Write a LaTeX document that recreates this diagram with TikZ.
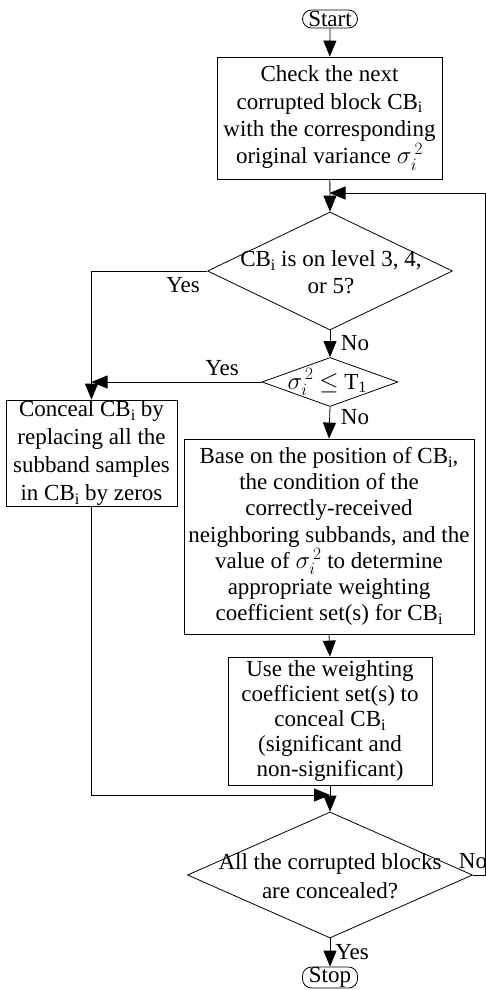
\documentclass[tikz,border=0pt]{standalone}
\usepackage{fontspec}
\setmainfont{Liberation Serif}
\usetikzlibrary{arrows.meta,shapes.geometric}
\newcommand\sbi{\raisebox{-0.35ex}{\fontsize{16}{16}\selectfont i}}
\newcommand\sgm{$\sigma_{i}^{\,2}$}
\tikzset{
  box/.style={draw, line width=0.8pt, inner sep=0pt, align=center},
  dia/.style={draw, diamond, inner sep=0pt, line width=0.8pt},
  term/.style={draw, line width=0.8pt, rounded corners=9pt, inner sep=0pt, minimum width=55pt, font=\fontsize{23}{23}\selectfont},
  arr/.style={line width=0.8pt, -{Triangle[length=16pt,width=13pt]}},
  lab/.style={inner sep=0pt, font=\fontsize{23}{23}\selectfont},
  txt/.style={inner sep=0pt, align=center, font=\fontsize{23}{28}\selectfont}
}
\begin{document}
\begin{tikzpicture}[x=1pt,y=-1pt]
\useasboundingbox (0,0) rectangle (486,990);
\node[term, minimum height=18pt] (start) at (330,19) {Start};
\node[box, minimum width=225pt, minimum height=122pt, font=\fontsize{23}{27.3}\selectfont] (b1) at (329.5,118)
  {Check the next\\corrupted block CB\sbi\\with the corresponding\\original variance \sgm};
\node[dia, minimum width=245pt, minimum height=118pt] (d1) at (330,271) {};
\node[txt, font=\fontsize{23}{27}\selectfont] (d1t) at (331,272) {CB\sbi{} is on level 3, 4,\\or 5?};
\node[dia, minimum width=136pt, minimum height=49pt] (d2) at (330,382) {};
\node[txt] (d2t) at (327,382) {\sgm{} $\le$ T\raisebox{-0.35ex}{\fontsize{16}{16}\selectfont 1}};
\node[box, minimum width=171pt, minimum height=106pt, font=\fontsize{23}{28}\selectfont] (b2) at (91.5,453)
  {Conceal CB\sbi{} by\\replacing all the\\subband samples\\in CB\sbi{} by zeros};
\node[box, minimum width=290pt, minimum height=195pt, font=\fontsize{23}{26.2}\selectfont] (b3) at (329,536.5)
  {Base on the position of CB\sbi,\\the condition of the\\correctly-received\\neighboring subbands, and the\\value of \sgm{} to determine\\appropriate weighting\\coefficient set(s) for CB\sbi};
\node[box, minimum width=204pt, minimum height=128pt, font=\fontsize{23}{24.8}\selectfont] (b4) at (330,721)
  {Use the weighting\\coefficient set(s) to\\conceal CB\sbi\\(significant and\\non-significant)};
\node[dia, minimum width=285pt, minimum height=126pt] (d3) at (330,875) {};
\node[txt, font=\fontsize{23}{29}\selectfont] (d3t) at (330,876) {All the corrupted blocks\\are concealed?};
\node[term, minimum height=21pt] (stop) at (330,977.5) {Stop};
% labels
\node[lab] (y1) at (183,285) {Yes};
\node[lab] (y2) at (222,368) {Yes};
\node[lab] (n1) at (355,343) {No};
\node[lab] (n2) at (355,417) {No};
\node[lab] (n3) at (473,861) {No};
\node[lab] (y3) at (352,952) {Yes};
% connectors
\coordinate (loopR) at (485,193);
\coordinate (join) at (330,795);
\draw[arr] (start) -- (b1);
\draw[arr] (b1) -- (d1.north);
\draw[arr] (d3.east) -| (loopR) -- (b1.south |- loopR);
\draw[arr] (d1.west) -| (b2.north);
\draw[arr] (d1.south) -- (d2.north);
\draw[arr] (d2.west) -- (d2.west -| b2.north);
\draw[arr] (d2.south) -- (b3.north);
\draw[arr] (b3.south) -- (b4.north);
\draw[arr] (b2.south) |- (join);
\draw[arr] (b4.south) -- (d3.north);
\draw[arr] (d3.south) -- (stop.north);
\end{tikzpicture}
\end{document}
